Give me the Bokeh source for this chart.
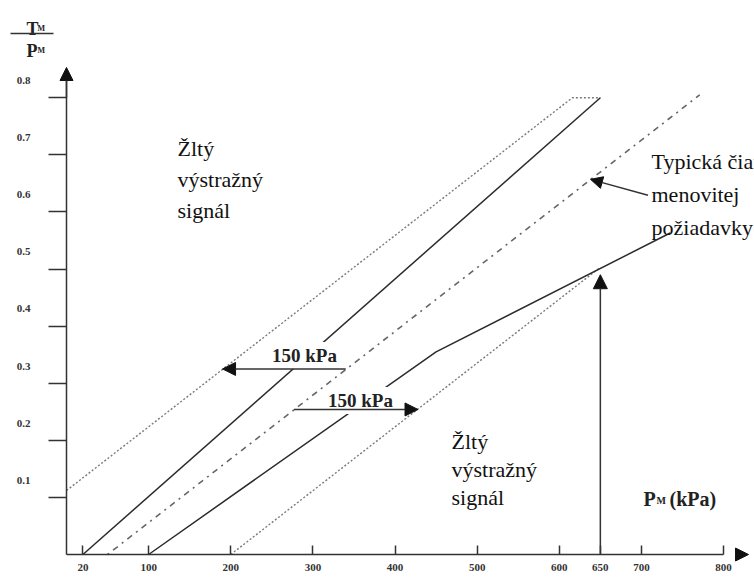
from bokeh.plotting import figure
from bokeh.models import (Range1d, FixedTicker, CustomJSTickFormatter,
                          Arrow, NormalHead, Label, ColumnDataSource)
from bokeh.core.properties import value
from bokeh.embed import file_html
from bokeh.resources import INLINE

# ---------------- data ----------------
x_ticks = [20, 100, 200, 300, 400, 500, 600, 650, 700, 800]
y_ticks = [0.1, 0.2, 0.3, 0.4, 0.5, 0.6, 0.7, 0.8]

upper_dotted_x = [0, 616, 650]
upper_dotted_y = [0.112, 0.8, 0.8]
upper_solid_x = [20, 650]
upper_solid_y = [0.0, 0.8]
typical_x = [50, 771]
typical_y = [0.0, 0.805]
lower_solid_x = [100, 450, 735]
lower_solid_y = [0.0, 0.355, 0.563]
lower_dotted_x = [200, 650]
lower_dotted_y = [0.0, 0.503]

shift_from_x = [340, 277]
shift_to_x = [190, 428]
shift_y = [0.325, 0.254]
shift_text = ["150 kPa", "150 kPa"]

pointer_from_x, pointer_from_y = 708, 0.629
pointer_to_x, pointer_to_y = 638, 0.657
nominal_x = 650
nominal_top = 0.49

zone_text = "Žltý\nvýstražný\nsignál"
typical_text = "Typická čiara\nmenovitej\npožiadavky"

# ---------------- layout helpers (reference pixels -> data) ----------------
def xd(px):
    return (px - 66) / 0.8213

def yd(py):
    return (554 - py) / 571.0

SERIF = "Liberation Serif"
AXIS = "#333333"

p = figure(width=754, height=577,
           x_range=Range1d(xd(0), xd(754)), y_range=Range1d(yd(577), yd(0)),
           output_backend="svg", toolbar_location=None,
           min_border_left=0, min_border_right=0, min_border_top=0, min_border_bottom=0)
p.grid.visible = False
p.outline_line_color = None
p.background_fill_color = "white"
p.border_fill_color = "white"

# x axis drawn at y = 0
xa = p.xaxis[0]
xa.fixed_location = 0
xa.ticker = FixedTicker(ticks=x_ticks)
xa.bounds = (0, 800)
xa.axis_line_color = AXIS
xa.axis_line_width = 1.5
xa.major_tick_in = 9
xa.major_tick_out = 0
xa.major_tick_line_color = AXIS
xa.major_tick_line_width = 1.5
xa.minor_tick_line_color = None
xa.major_label_standoff = 9
xa.major_label_text_font = SERIF
xa.major_label_text_font_style = "bold"
xa.major_label_text_font_size = "11px"
xa.major_label_text_color = AXIS

# y axis drawn at x = 0; tick marks at the values, labels a little above them
label_offset = 0.03
ya = p.yaxis[0]
ya.fixed_location = 0
ya.ticker = FixedTicker(ticks=[round(v + label_offset, 2) for v in y_ticks], minor_ticks=y_ticks)
ya.formatter = CustomJSTickFormatter(code="return (tick - 0.03).toFixed(1);")
ya.bounds = (0, 0.83)
ya.axis_line_color = AXIS
ya.axis_line_width = 1.5
ya.major_tick_line_color = None
ya.major_tick_in = 0
ya.major_tick_out = 0
ya.minor_tick_out = 18
ya.minor_tick_in = 0
ya.minor_tick_line_color = AXIS
ya.minor_tick_line_width = 1.5
ya.major_label_standoff = 18
ya.major_label_text_font = SERIF
ya.major_label_text_font_style = "bold"
ya.major_label_text_font_size = "11px"
ya.major_label_text_color = AXIS

# ---------------- lines ----------------
p.line(upper_dotted_x, upper_dotted_y, line_color="#7a7a7a", line_width=1.4, line_dash="2 2")
p.line(lower_dotted_x, lower_dotted_y, line_color="#7a7a7a", line_width=1.4, line_dash="2 2")
p.line(typical_x, typical_y, line_color="#666666", line_width=1.6, line_dash="2 5 6 5")
p.line(upper_solid_x, upper_solid_y, line_color="#2b2b2b", line_width=1.5)
p.line(lower_solid_x, lower_solid_y, line_color="#2b2b2b", line_width=1.5)

# ---------------- texts ----------------
p.text(x=[xd(177)], y=[yd(135)], text=[zone_text], text_font=value(SERIF),
       text_font_size="22px", text_baseline="top", text_align="left",
       text_line_height=1.25, text_color="#111111")
p.text(x=[xd(451)], y=[yd(428)], text=[zone_text], text_font=value(SERIF),
       text_font_size="22px", text_baseline="top", text_align="left",
       text_line_height=1.12, text_color="#111111")
p.text(x=[xd(651)], y=[yd(148)], text=[typical_text], text_font=value(SERIF),
       text_font_size="22px", text_baseline="top", text_align="left",
       text_line_height=1.33, text_color="#111111")

shift_src = ColumnDataSource(dict(x=[xd(304), xd(360)], y=[yd(355), yd(400)], t=shift_text))
p.text(x="x", y="y", text="t", source=shift_src, text_font=value(SERIF),
       text_font_style="bold", text_font_size="19px", text_align="center",
       text_baseline="alphabetic", text_color="#222222",
       background_fill_color="white", padding=3)

# x-axis title P_M (kPa)
p.text(x=[xd(643)], y=[yd(498)], text=["P"], text_font=value(SERIF), text_font_style="bold",
       text_font_size="20px", text_baseline="alphabetic", text_color="#222222")
p.text(x=[xd(656)], y=[yd(500)], text=["M"], text_font=value(SERIF), text_font_style="bold",
       text_font_size="10px", text_baseline="alphabetic", text_color="#222222")
p.text(x=[xd(669)], y=[yd(498)], text=["(kPa)"], text_font=value(SERIF), text_font_style="bold",
       text_font_size="20px", text_baseline="alphabetic", text_color="#222222")

# ---------------- arrows ----------------
def head(size=12):
    return NormalHead(size=size, fill_color="#111111", line_color="#111111")

for xs, xe, yy in zip(shift_from_x, shift_to_x, shift_y):
    p.add_layout(Arrow(end=head(13), x_start=xs, y_start=yy, x_end=xe, y_end=yy,
                       line_color=AXIS, line_width=1.6))
p.add_layout(Arrow(end=head(12), x_start=pointer_from_x, y_start=pointer_from_y,
                   x_end=pointer_to_x, y_end=pointer_to_y, line_color=AXIS, line_width=1.5))
p.add_layout(Arrow(end=head(14), x_start=nominal_x, y_start=0, x_end=nominal_x, y_end=nominal_top,
                   line_color=AXIS, line_width=1.5))

# axis arrowheads
p.add_layout(Arrow(end=head(13), x_start=0, y_start=0.80, x_end=0, y_end=yd(67),
                   line_color=AXIS, line_width=1.5))
p.add_layout(Arrow(end=head(13), x_start=xd(735), y_start=0, x_end=xd(748), y_end=0,
                   line_color=AXIS, line_width=2.5))

# y-axis title T_M / P_M
for txt, px, py, size in [("T", 26, 28, "18px"), ("M", 37, 28, "8px"),
                          ("P", 26, 50, "18px"), ("M", 37, 50, "8px")]:
    p.add_layout(Label(x=xd(px), y=yd(py), text=txt, text_font=SERIF, text_font_style="bold",
                       text_font_size=size, text_baseline="alphabetic", text_align="left",
                       text_color="#222222"))
p.add_layout(Arrow(start=None, end=None, x_start=xd(10), y_start=yd(33), x_end=xd(53),
                   y_end=yd(33), line_color=AXIS, line_width=1.5))

open("out.html", "w").write(file_html(p, INLINE))
